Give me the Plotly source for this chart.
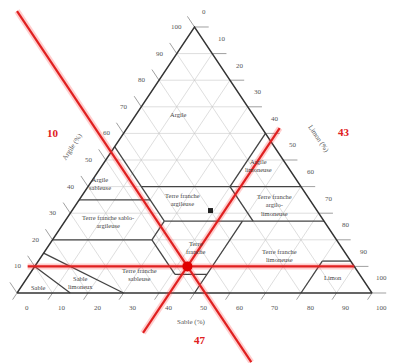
import plotly.graph_objects as go

# point read on the triangle (%)
clay_val = 10
silt_val = 43
sand_val = 47

ticks = [0, 10, 20, 30, 40, 50, 60, 70, 80, 90, 100]

# class boundaries, each segment as (sand, silt, clay) -> (sand, silt, clay)
bounds_start = [(45, 15, 40), (20, 40, 40), (45, 28, 27), (65, 0, 35), (45, 28, 27),
                (20, 53, 27), (52, 28, 20), (80, 0, 20), (52, 41, 7), (52, 41, 7),
                (50, 50, 0), (20, 80, 0), (8, 80, 12), (85, 0, 15), (90, 0, 10)]
bounds_end = [(0, 60, 40), (0, 40, 60), (45, 0, 55), (45, 20, 35), (0, 73, 27),
              (20, 40, 40), (45, 28, 27), (52, 28, 20), (52, 28, 20), (43, 50, 7),
              (23, 50, 27), (8, 80, 12), (0, 88, 12), (70, 30, 0), (85, 15, 0)]

# class names and where they sit (clay, silt)
class_names = ["Argile", "Argile<br>limoneuse", "Argile<br>sableuse",
               "Terre franche<br>argileuse", "Terre franche<br>argilo-<br>limoneuse",
               "Terre franche sablo-<br>argileuse", "Terre<br>franche",
               "Terre franche<br>limoneuse", "Limon", "Terre franche<br>sableuse",
               "Sable<br>limoneux", "Sable"]
class_clay = [67, 48, 41, 35, 33, 27, 17, 14, 6, 7, 4, 2]
class_silt = [12, 44, 3, 29, 56, 12, 42, 67, 86, 31, 16, 5]

# extent of the red reading lines
clay_line_silt = [-2, 90]
silt_line_clay = [-15, 62]
sand_line_clay = [-26, 106]

# sample marker
sample_clay = 31
sample_silt = 39


def tx(clay, silt):
    return silt + clay / 2


def seg_xy(pts):
    xs, ys = [], []
    for a, b in pts:
        xs += [tx(a[1], a[0]), tx(b[1], b[0]), None]
        ys += [a[1], b[1], None]
    return xs, ys


fig = go.Figure()

# grid inside + ticks outside
grid = []
tick_segs = []
for v in ticks[1:-1]:
    grid.append(((v, 0), (v, 100 - v)))          # clay = v
    grid.append(((0, v), (100 - v, v)))          # silt = v
    grid.append(((0, 100 - v), (100 - v, 0)))    # sand = v
for v in ticks:
    tick_segs.append(((v, 0), (v, -2.5)))
    tick_segs.append(((100 - v, v), (104 - v, v)))
    tick_segs.append(((0, 100 - v), (-4, 104 - v)))

gx, gy = seg_xy(grid)
fig.add_trace(go.Scatter(x=gx, y=gy, mode="lines", line=dict(color="#c8c8c8", width=0.6),
                         hoverinfo="skip"))
kx, ky = seg_xy(tick_segs)
fig.add_trace(go.Scatter(x=kx, y=ky, mode="lines", line=dict(color="#777", width=0.7),
                         hoverinfo="skip"))

# class boundaries
bx, by = [], []
for a, b in zip(bounds_start, bounds_end):
    bx += [tx(a[2], a[1]), tx(b[2], b[1]), None]
    by += [a[2], b[2], None]
fig.add_trace(go.Scatter(x=bx, y=by, mode="lines", line=dict(color="#444", width=1.3),
                         hoverinfo="skip"))

# outline
fig.add_trace(go.Scatter(x=[tx(0, 0), tx(0, 100), tx(100, 0), tx(0, 0)], y=[0, 0, 100, 0],
                         mode="lines", line=dict(color="#333", width=1.4), hoverinfo="skip"))

fig.add_trace(go.Scatter(x=[tx(sample_clay, sample_silt)], y=[sample_clay], mode="markers",
                         marker=dict(symbol="square", size=5, color="#222")))

# red reading lines
red_x = [tx(clay_val, clay_line_silt[0]), tx(clay_val, clay_line_silt[1]), None,
         tx(silt_line_clay[0], silt_val), tx(silt_line_clay[1], silt_val), None,
         tx(sand_line_clay[0], 100 - sand_val - sand_line_clay[0]),
         tx(sand_line_clay[1], 100 - sand_val - sand_line_clay[1])]
red_y = [clay_val, clay_val, None, silt_line_clay[0], silt_line_clay[1], None,
         sand_line_clay[0], sand_line_clay[1]]
fig.add_trace(go.Scatter(x=red_x, y=red_y, mode="lines",
                         line=dict(color="rgba(255,60,60,0.25)", width=6), hoverinfo="skip"))
fig.add_trace(go.Scatter(x=red_x, y=red_y, mode="lines",
                         line=dict(color="#e02020", width=2.2), hoverinfo="skip"))
fig.add_trace(go.Scatter(x=[tx(clay_val, silt_val)], y=[clay_val], mode="markers",
                         marker=dict(size=10, color="#e00000", symbol="circle")))

small = dict(family="Liberation Serif", size=7, color="#555")

# tick labels
for v in ticks:
    fig.add_annotation(x=tx(v, 0) - 3.1, y=v, text=str(v), showarrow=False,
                       xanchor="right", font=small)
    fig.add_annotation(x=tx(105.5 - v, v), y=105.5 - v, text=str(v), showarrow=False,
                       font=small)
    fig.add_annotation(x=tx(-5.5, 105.5 - v), y=-5.5, text=str(100 - v), showarrow=False,
                       font=small)

# axis titles
fig.add_annotation(x=tx(55, -12), y=55, text="Argile (%)", textangle=-57,
                   showarrow=False, font=small)
fig.add_annotation(x=tx(58, 56), y=58, text="Limon (%)", textangle=56,
                   showarrow=False, font=small)
fig.add_annotation(x=tx(-11, 54.5), y=-11, text="Sable (%)", showarrow=False, font=small)

for name, c, s in zip(class_names, class_clay, class_silt):
    fig.add_annotation(x=tx(c, s), y=c, text=name, showarrow=False,
                       font=dict(family="Liberation Serif", size=6.5, color="#444"))

# red values (page has an 8px body margin, so positions are shifted back by 8)
red_font = dict(family="Liberation Serif", size=11, color="#e02020")
fig.add_annotation(x=37 / 403, y=1 - 117 / 363, xref="paper", yref="paper",
                   text="<b>" + str(clay_val) + "</b>", showarrow=False, font=red_font)
fig.add_annotation(x=344 / 403, y=1 - 116 / 363, xref="paper", yref="paper",
                   text="<b>" + str(silt_val) + "</b>", showarrow=False, font=red_font)
fig.add_annotation(x=192 / 403, y=1 - 340 / 363, xref="paper", yref="paper",
                   text="<b>" + str(sand_val) + "</b>", showarrow=False, font=red_font)

fig.update_layout(width=403, height=363, margin=dict(l=0, r=0, t=0, b=0),
                  showlegend=False, plot_bgcolor="white", paper_bgcolor="white",
                  xaxis=dict(range=[-2.54, 110.99], visible=False, fixedrange=True),
                  yaxis=dict(range=[-29.32, 107.14], visible=False, fixedrange=True))

fig.write_html("out.html")
